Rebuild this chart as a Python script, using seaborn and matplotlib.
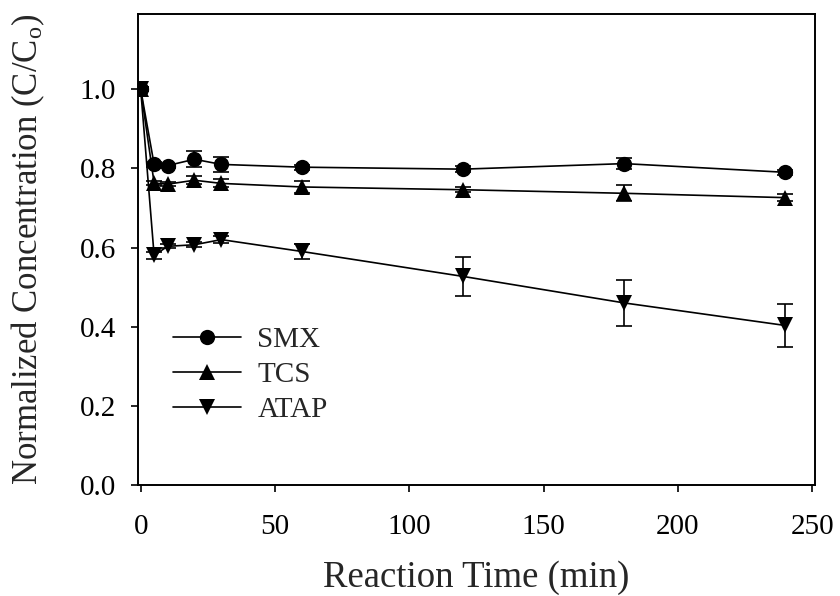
import matplotlib
matplotlib.use("Agg")
import matplotlib.pyplot as plt
import seaborn as sns
import pandas as pd

time_min = [0, 5, 10, 20, 30, 60, 120, 180, 240]
smx = [1.0, 0.810, 0.807, 0.823, 0.810, 0.803, 0.798, 0.812, 0.790]
smx_err = [0.005, 0.006, 0.005, 0.020, 0.018, 0.006, 0.008, 0.013, 0.006]
tcs = [1.0, 0.763, 0.760, 0.770, 0.762, 0.753, 0.746, 0.737, 0.726]
tcs_err = [0.005, 0.005, 0.005, 0.010, 0.010, 0.016, 0.006, 0.020, 0.008]
atap = [1.0, 0.580, 0.603, 0.607, 0.620, 0.590, 0.527, 0.460, 0.403]
atap_err = [0.005, 0.008, 0.005, 0.006, 0.008, 0.020, 0.050, 0.058, 0.055]
series_names = ["SMX", "TCS", "ATAP"]

sns.set_theme(style="ticks")
plt.rcParams["font.family"] = ["Liberation Serif", "DejaVu Serif"]
plt.rcParams["mathtext.fontset"] = "custom"
plt.rcParams["mathtext.rm"] = "Liberation Serif"
plt.rcParams["mathtext.it"] = "Liberation Serif"

frames = []
for name, vals in zip(series_names, [smx, tcs, atap]):
    frames.append(pd.DataFrame({"time": time_min, "conc": vals, "compound": name}))
df = pd.concat(frames, ignore_index=True)

fig = plt.figure(figsize=(8.4, 5.96), dpi=100)
# axes: left 138, right 815, top 14, bottom 485 (pixels)
ax = fig.add_axes([138 / 840, (596 - 485) / 596, (815 - 138) / 840, (485 - 14) / 596])

markers = {"SMX": "o", "TCS": "^", "ATAP": "v"}
for name, vals, errs in zip(series_names, [smx, tcs, atap], [smx_err, tcs_err, atap_err]):
    ax.errorbar(time_min, vals, yerr=errs, fmt="none", ecolor="black",
                elinewidth=1.2, capsize=5.5, capthick=1.2, zorder=2)

sns.lineplot(data=df, x="time", y="conc", hue="compound", style="compound",
             palette={n: "black" for n in series_names}, markers=markers,
             dashes=False, markersize=11, markeredgewidth=0, linewidth=1.2,
             ax=ax, zorder=3, legend=True)

ax.set_xlim(-1, 251)
ax.set_ylim(0, 1.19)
ax.set_xticks([0, 50, 100, 150, 200, 250])
ax.set_yticks([0.0, 0.2, 0.4, 0.6, 0.8, 1.0])
ax.set_yticklabels(["0.0", "0.2", "0.4", "0.6", "0.8", "1.0"])
ax.tick_params(axis="both", direction="out", length=5, width=1.2,
               labelsize=21, colors="black")
ax.tick_params(axis="x", pad=16)
ax.tick_params(axis="y", pad=11)
for s in ax.spines.values():
    s.set_linewidth(1.4)
    s.set_color("black")
    s.set_visible(True)

ax.set_xlabel("Reaction Time (min)", fontsize=26.5, va="center")
ax.xaxis.set_label_coords(0.5, (485 - 578) / 471)
ax.set_ylabel(r"Normalized Concentration (C/C$_\mathrm{o}$)", fontsize=25, va="center")
ax.yaxis.set_label_coords((28 - 138) / 677, 0.5)

handles, labels = ax.get_legend_handles_labels()
leg = ax.legend(handles, labels, loc="center left",
                bbox_to_anchor=(0.03, (485 - 375) / 471),
                frameon=False, fontsize=21, handlelength=2.35, handletextpad=0.55,
                labelspacing=0.3, borderpad=0.0)
for h in leg.legend_handles:
    h.set_color("black")
    h.set_markersize(11)

fig.savefig("out.png", dpi=100)
